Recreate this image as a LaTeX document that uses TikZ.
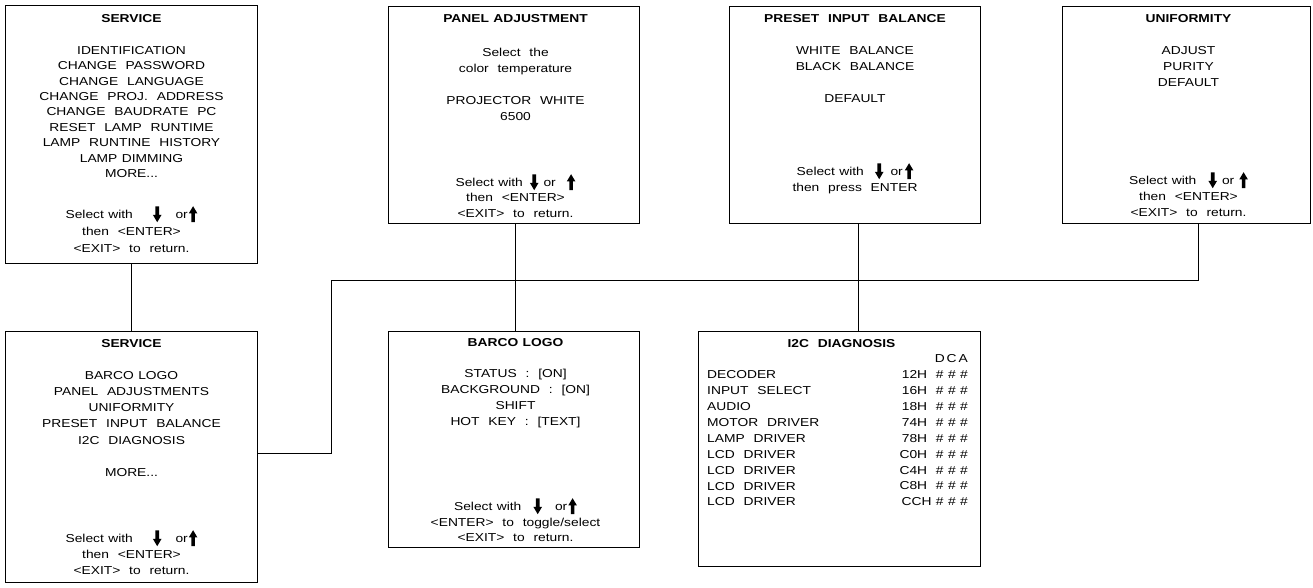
\documentclass[tikz,border=0pt]{standalone}
\usepackage{fontspec}
\setmainfont{Liberation Sans}[FakeStretch=1.2,WordSpace=1.15]
\usetikzlibrary{positioning}

% thick menu arrows
\newcommand{\dnarr}{\tikz[baseline=0pt,x=1pt,y=1pt]\fill (-1.8,12)--(1.8,12)--(1.8,3.5)--(4.3,3.5)--(0,-3.8)--(-4.3,3.5)--(-1.8,3.5)--cycle;}
\newcommand{\uparr}{\tikz[baseline=0pt,x=1pt,y=1pt]\fill (-1.8,-3.8)--(1.8,-3.8)--(1.8,5)--(4.3,5)--(0,12.2)--(-4.3,5)--(-1.8,5)--cycle;}
\newcommand{\selw}[3]{Select with\hspace{#1}\dnarr\hspace{#2}or\hspace{#3}\uparr}

\begin{document}
\begin{tikzpicture}[
  x=1pt, y=-1pt,
  scr/.style={rectangle, draw, line width=1pt, anchor=north west, inner sep=0pt},
  ttl/.style={anchor=north, inner sep=0pt, font=\fontsize{11.5}{14}\selectfont\bfseries},
  txt/.style={align=center, anchor=north, inner sep=0pt, font=\fontsize{11.5}{#1}\selectfont},
  txt/.default=16,
  wire/.style={line width=1pt}
]
  \useasboundingbox (0,0) rectangle (1313,588);

  % menu screens, top row
  \node[scr, minimum width=252pt, minimum height=258pt] (svcTop) at (5,5) {};
  \node[scr, minimum width=251pt, minimum height=217pt] (panel)  at (388,6) {};
  \node[scr, minimum width=251pt, minimum height=217pt] (preset) at (729,6) {};
  \node[scr, minimum width=248pt, minimum height=217pt] (uni)    at (1062,6) {};
  % menu screens, bottom row
  \node[scr, minimum width=252pt, minimum height=251pt] (svcLow) at (5,331) {};
  \node[scr, minimum width=251pt, minimum height=216pt] (barco)  at (388,331) {};
  \node[scr, minimum width=282pt, minimum height=235pt] (i2c)    at (698,331) {};

  % SERVICE (top)
  \node[ttl] (svcTopT) at ([yshift=-9pt]svcTop.north) {SERVICE};
  \node[txt=15.4] (svcTopL) at ([yshift=-41pt]svcTop.north) {IDENTIFICATION\\CHANGE~~PASSWORD\\CHANGE~~LANGUAGE\\CHANGE~~PROJ.~~ADDRESS\\CHANGE~~BAUDRATE~~PC\\RESET~~LAMP~~RUNTIME\\LAMP~~RUNTINE~~HISTORY\\LAMP DIMMING\\MORE...};
  \node[txt=17] (svcTopS) at ([yshift=-201pt]svcTop.north) {\selw{20pt}{14pt}{1pt}\\then~~<ENTER>\\<EXIT>~~to~~return.};

  % PANEL ADJUSTMENT
  \node[ttl] (panelT) at ([xshift=1.5pt,yshift=-8pt]panel.north) {PANEL~ADJUSTMENT};
  \node[txt] (panelL) at ([xshift=1.5pt,yshift=-42pt]panel.north) {Select~~the\\color~~temperature\\\mbox{}\\PROJECTOR~~WHITE\\6500};
  \node[txt=15.5] (panelS) at ([xshift=1.5pt,yshift=-168pt]panel.north) {\selw{7pt}{5pt}{11pt}\\then~~<ENTER>\\<EXIT>~~to~~return.};

  % PRESET INPUT BALANCE
  \node[ttl] (presetT) at ([yshift=-8pt]preset.north) {PRESET~~INPUT~~BALANCE};
  \node[txt] (presetL) at ([yshift=-40pt]preset.north) {WHITE~~BALANCE\\BLACK~~BALANCE\\\mbox{}\\DEFAULT};
  \node[txt] (presetS) at ([yshift=-157pt]preset.north) {\selw{11pt}{7pt}{2pt}\\then~~press~~ENTER};

  % UNIFORMITY
  \node[ttl] (uniT) at ([xshift=2pt,yshift=-8pt]uni.north) {UNIFORMITY};
  \node[txt] (uniL) at ([xshift=2pt,yshift=-40pt]uni.north) {ADJUST\\PURITY\\DEFAULT};
  \node[txt] (uniS) at ([xshift=2pt,yshift=-166pt]uni.north) {\selw{12pt}{5pt}{5pt}\\then~~<ENTER>\\<EXIT>~~to~~return.};

  % SERVICE (bottom)
  \node[ttl] (svcLowT) at ([yshift=-8pt]svcLow.north) {SERVICE};
  \node[txt=16.2] (svcLowL) at ([yshift=-40pt]svcLow.north) {BARCO LOGO\\PANEL~~ADJUSTMENTS\\UNIFORMITY\\PRESET~~INPUT~~BALANCE\\I2C~~DIAGNOSIS\\\mbox{}\\MORE...};
  \node[txt] (svcLowS) at ([yshift=-199pt]svcLow.north) {\selw{20pt}{14pt}{1pt}\\then~~<ENTER>\\<EXIT>~~to~~return.};

  % BARCO LOGO
  \node[ttl] (barcoT) at ([xshift=1.5pt,yshift=-7pt]barco.north) {BARCO LOGO};
  \node[txt] (barcoL) at ([xshift=1.5pt,yshift=-38pt]barco.north) {STATUS~~:~~[ON]\\BACKGROUND~~:~~[ON]\\SHIFT\\HOT~~KEY~~:~~[TEXT]};
  \node[txt=15.7] (barcoS) at ([xshift=1.5pt,yshift=-167pt]barco.north) {\selw{12pt}{13pt}{1pt}\\<ENTER>~~to~~toggle/select\\<EXIT>~~to~~return.};

  % I2C DIAGNOSIS
  \node[ttl] (i2cT) at ([xshift=2pt,yshift=-8pt]i2c.north) {I2C~~DIAGNOSIS};
  \node[txt=15.9, align=left, anchor=north west] (i2cL) at ([xshift=9pt,yshift=-39.5pt]i2c.north west) {DECODER\\INPUT~~SELECT\\AUDIO\\MOTOR~~DRIVER\\LAMP~~DRIVER\\LCD~~DRIVER\\LCD~~DRIVER\\LCD~~DRIVER\\LCD~~DRIVER};
  \node[txt=15.9, align=right, anchor=north east] (i2cR) at ([xshift=-13pt,yshift=-23.5pt]i2c.north east) {D\,C\,A\\12H~~\#~\#~\#\\16H~~\#~\#~\#\\18H~~\#~\#~\#\\74H~~\#~\#~\#\\78H~~\#~\#~\#\\C0H~~\#~\#~\#\\C4H~~\#~\#~\#\\C8H~~\#~\#~\#\\CCH~\#~\#~\#};

  % connections
  \coordinate (bus) at (331,280);
  \draw[wire] (svcTop) -- (svcLow);
  \draw[wire] ([xshift=1.5pt]panel.south) -- ([xshift=1.5pt]barco.north);
  \draw[wire] ([xshift=3.5pt]preset.south) -- ([xshift=3.5pt]preset.south |- i2c.north);
  \draw[wire] ([yshift=3.5pt]svcLow.east) -| (bus) -| ([xshift=11.5pt]uni.south);
\end{tikzpicture}
\end{document}
